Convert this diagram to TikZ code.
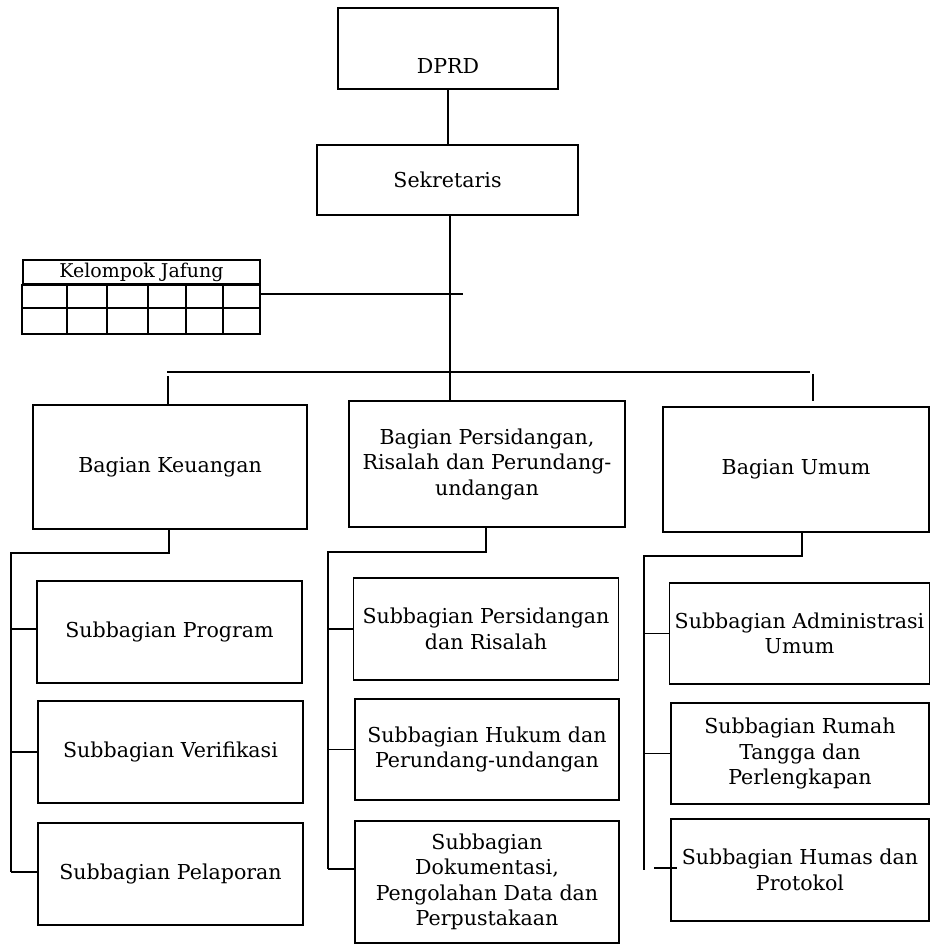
\documentclass[tikz,border=0pt]{standalone}
\usepackage{fontspec}
\setmainfont{DejaVu Serif}
\usepackage{tikz}
\usetikzlibrary{calc}

\tikzset{
  kotak/.style={draw, line width=0.9pt, align=center, inner sep=0pt,
    font=\fontsize{11.7}{14.5}\selectfont},
  garis/.style={line width=0.9pt}
}

\begin{document}
\begin{tikzpicture}[x=0.02cm, y=-0.02cm]
\useasboundingbox (0,0) rectangle (930,946);

\node[kotak, minimum width=4.4cm, minimum height=1.62cm,
  label={[font=\fontsize{11.7}{14.5}\selectfont, yshift=-0.36cm]center:DPRD}] (dprd) at (448,48.5) {};
\node[kotak, minimum width=5.22cm, minimum height=1.4cm] (sek) at (447.5,180) {Sekretaris};

\node[kotak, minimum width=4.74cm, minimum height=0.48cm,
  font=\fontsize{10.8}{12}\selectfont] (jafung) at (141.5,272) {Kelompok Jafung};
\draw[garis] (jafung.south west) rectangle (260,334);
\draw[garis] (22,308) -- (260,308);
\foreach \x in {67,107,148,186,223}
  \draw[garis] (\x,284) -- (\x,334);
\coordinate (jf) at (261,294);
\coordinate (jfend) at (463,294);
\draw[garis] (jf) -- (jfend);

\node[kotak, minimum width=5.48cm, minimum height=2.48cm] (keu) at (170,467) {Bagian Keuangan};
\node[kotak, minimum width=5.52cm, minimum height=2.52cm] (mid) at (487,464)
  {Bagian Persidangan,\\Risalah dan Perundang-\\undangan};
\node[kotak, minimum width=5.32cm, minimum height=2.5cm] (umum) at (796,469.5) {Bagian Umum};

\draw[garis] (dprd.south) -- (dprd.south |- sek.north);
\draw[garis] (450,215) -- (450,401);
\coordinate (busL) at (167,372);
\coordinate (busR) at (810,372);
\draw[garis] (busL) -- (busR);
\coordinate (tk1) at (168,376);
\coordinate (tk3) at (813,374);
\draw[garis] (tk1) -- (tk1 |- keu.north);
\draw[garis] (tk3) -- ++(0,27);

% kolom keuangan
\node[kotak, minimum width=5.3cm, minimum height=2.04cm] (prog) at (169.5,632) {Subbagian Program};
\node[kotak, minimum width=5.3cm, minimum height=2.04cm] (verif) at (170.5,752) {Subbagian Verifikasi};
\node[kotak, minimum width=5.3cm, minimum height=2.04cm] (pelap) at (170.5,874) {Subbagian Pelaporan};
\coordinate (k1) at (11,553);
\draw[garis] (169,529) |- (k1) -- (11,872);
\draw[garis] (11,629) -- (11,629 -| prog.west);
\draw[garis] (k1 |- verif.west) -- (verif.west);
\draw[garis] (11,872) -- (11,872 -| pelap.west);

% kolom persidangan
\node[kotak, minimum width=5.3cm, minimum height=2.04cm] (pers) at (486,629)
  {Subbagian Persidangan\\dan Risalah};
\node[kotak, minimum width=5.28cm, minimum height=2.02cm] (hukum) at (487,749.5)
  {Subbagian Hukum dan\\Perundang-undangan};
\node[kotak, minimum width=5.28cm, minimum height=2.44cm] (dok) at (487,882)
  {Subbagian\\Dokumentasi,\\Pengolahan Data dan\\Perpustakaan};
\coordinate (k2) at (328,552);
\draw[garis] (486,527) |- (k2) -- (328,869);
\draw[garis] (k2 |- pers.west) -- (pers.west);
\draw[garis] (k2 |- hukum.west) -- (hukum.west);
\draw[garis] (328,869) -- (328,869 -| dok.west);

% kolom umum
\node[kotak, minimum width=5.2cm, minimum height=2.02cm] (adm) at (799.5,633.5)
  {Subbagian Administrasi\\Umum};
\node[kotak, minimum width=5.16cm, minimum height=2.02cm] (rumah) at (800,753.5)
  {Subbagian Rumah\\Tangga dan\\Perlengkapan};
\node[kotak, minimum width=5.16cm, minimum height=2.04cm] (humas) at (800,870)
  {Subbagian Humas dan\\Protokol};
\coordinate (k3) at (644,556);
\draw[garis] (802,532) |- (k3) -- (k3 |- humas.west);
\draw[garis] (k3 |- adm.west) -- (adm.west);
\draw[garis] (k3 |- rumah.west) -- (rumah.west);
\draw[garis] (654,868) -- (677,868);

\end{tikzpicture}
\end{document}
